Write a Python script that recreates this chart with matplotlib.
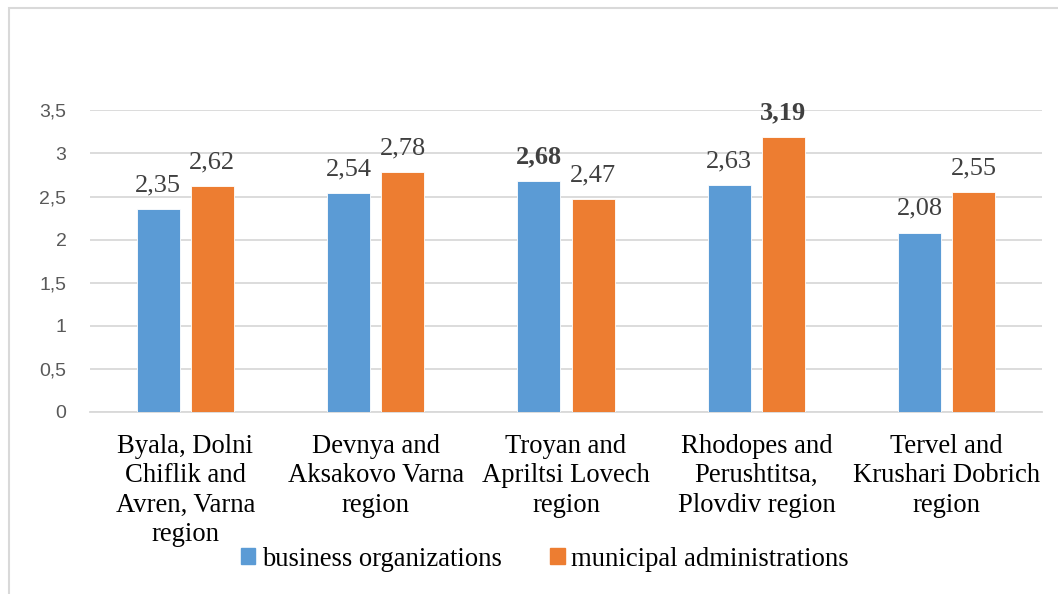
import matplotlib
matplotlib.use('Agg')
import matplotlib.pyplot as plt
from matplotlib.patches import Patch, Rectangle
import numpy as np

categories = [
    "Byala, Dolni\nChiflik and\nAvren, Varna\nregion",
    "Devnya and\nAksakovo Varna\nregion",
    "Troyan and\nApriltsi Lovech\nregion",
    "Rhodopes and\nPerushtitsa,\nPlovdiv region",
    "Tervel and\nKrushari Dobrich\nregion",
]
business = [2.35, 2.54, 2.68, 2.63, 2.08]
municipal = [2.62, 2.78, 2.47, 3.19, 2.55]
# which data labels are printed in bold
business_bold = [False, False, True, False, False]
municipal_bold = [False, False, False, True, False]
yticks = [0, 0.5, 1, 1.5, 2, 2.5, 3, 3.5]
ytick_labels = ["0", "0,5", "1", "1,5", "2", "2,5", "3", "3,5"]

BLUE = '#5B9BD5'
ORANGE = '#ED7D31'
GRID = '#d9d9d9'
SERIF = 'Liberation Serif'

plt.rcParams['font.family'] = SERIF

fig = plt.figure(figsize=(10.58, 5.94), dpi=100)
ax = fig.add_axes([90 / 1058, 1 - 412 / 594, 952 / 1058, (412 - 110.3) / 594])

x = np.arange(len(categories))
w = 0.226
off = 0.142
b1 = ax.bar(x - off, business, w, color=BLUE, edgecolor='white', linewidth=0.6, zorder=3)
b2 = ax.bar(x + off, municipal, w, color=ORANGE, edgecolor='white', linewidth=0.6, zorder=3)

for bars, vals, bolds in [(b1, business, business_bold), (b2, municipal, municipal_bold)]:
    for rect, v, bd in zip(bars, vals, bolds):
        ax.annotate(f"{v:.2f}".replace('.', ','),
                    (rect.get_x() + rect.get_width() / 2, v),
                    xytext=(0, 13), textcoords='offset points',
                    ha='center', va='baseline', fontsize=19, family=SERIF,
                    color='#404040', fontweight='bold' if bd else 'normal')

ax.set_xlim(-0.5, len(categories) - 0.5)
ax.set_ylim(0, 3.5)
ax.set_yticks(yticks)
ax.set_yticklabels(ytick_labels, family='Liberation Sans', fontsize=14, color='#595959')
ax.tick_params(axis='y', length=0, pad=17)
ax.set_xticks(x)
ax.set_xticklabels(categories, family=SERIF, fontsize=19.2, color='black', linespacing=1.22)
ax.tick_params(axis='x', length=0, pad=16)
ax.grid(axis='y', color=GRID, linewidth=1.3, zorder=0)
for s in ['top', 'right', 'left']:
    ax.spines[s].set_visible(False)
ax.spines['bottom'].set_color(GRID)
ax.spines['bottom'].set_linewidth(1.3)

handles = [Patch(color=BLUE, label='business organizations'),
           Patch(color=ORANGE, label='municipal administrations')]
fig.legend(handles=handles, loc='center', bbox_to_anchor=(0.515, 1 - 559 / 594),
           ncol=2, frameon=False, prop={'family': SERIF, 'size': 19.2},
           handlelength=0.55, handleheight=0.55, handletextpad=0.25, columnspacing=1.8)

# outer chart border (only left and top edges visible in the crop)
fig.patches.append(Rectangle((8.5 / 1058, -0.1), 1.2, 1.1 - 8.5 / 594,
                             transform=fig.transFigure, fill=False,
                             edgecolor=GRID, linewidth=1.5))

plt.savefig('out.png', dpi=100)
